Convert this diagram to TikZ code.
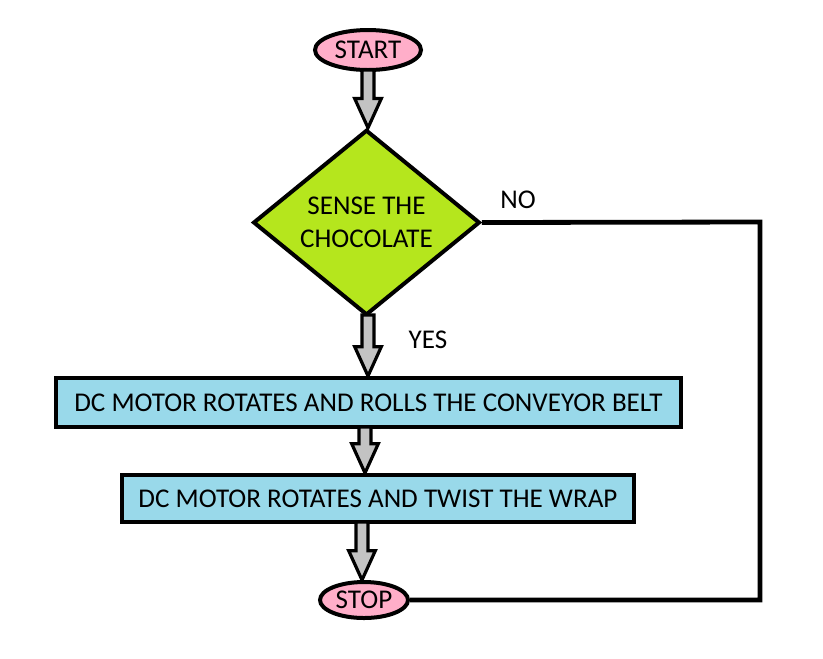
\documentclass[tikz,border=0pt]{standalone}
\usepackage{fontspec}
\setmainfont{Carlito}
\usetikzlibrary{shapes.geometric,calc}
\definecolor{pinkfill}{HTML}{FFAEC9}
\definecolor{limefill}{HTML}{B5E61D}
\definecolor{bluefill}{HTML}{99D9EA}
\definecolor{arrowgray}{HTML}{C3C3C3}
\tikzset{
  terminal/.style={ellipse, draw, line width=3pt, fill=pinkfill, inner sep=0pt, font=\fontsize{20.3}{22}\selectfont},
  decision/.style={diamond, draw, line width=3pt, fill=limefill, inner sep=0pt, align=center, font=\fontsize{20.3}{25}\selectfont},
  process/.style={rectangle, draw, line width=3pt, fill=bluefill, inner sep=0pt, font=\fontsize{20.3}{22}\selectfont},
  lbl/.style={inner sep=0pt, font=\fontsize{20.3}{22}\selectfont},
  fatarrow/.style={draw, line width=2.4pt, fill=arrowgray, line join=miter, miter limit=4},
  noline/.style={draw, line width=3.6pt}
}
\newcommand{\fatarrow}[2]{%
  \path[fatarrow] let \p1=(#1), \p2=(#2) in
    ({\x1-4.5pt},\y1) -- ({\x1-4.5pt},{\y2+22pt}) -- ({\x1-10pt},{\y2+22pt}) --
    (\x1,\y2) -- ({\x1+10pt},{\y2+22pt}) -- ({\x1+4.5pt},{\y2+22pt}) --
    ({\x1+4.5pt},\y1) -- cycle;}
\begin{document}
\begin{tikzpicture}[x=0.75pt,y=-0.75pt]
\useasboundingbox (0,0) rectangle (823,658);
\node[terminal, minimum width=79.5pt, minimum height=30pt] (start) at (368,50) {START};
\node[decision, minimum width=170pt, minimum height=139pt] (dec) at (366.5,222.5) {SENSE THE\\CHOCOLATE};
\node[process, minimum width=468.75pt, minimum height=36.75pt] (box1) at (368.5,402.5) {DC MOTOR ROTATES AND ROLLS THE CONVEYOR BELT};
\node[process, minimum width=384pt, minimum height=35.25pt] (box2) at (378,498.5) {DC MOTOR ROTATES AND TWIST THE WRAP};
\node[terminal, minimum width=66pt, minimum height=27pt] (stop) at (364,600) {STOP};
\node[lbl] (yes) at (428,340) {YES};
\node[lbl] (no) at (518,200) {NO};
\coordinate (a1) at (368,70);
\coordinate (a2) at (368,315);
\coordinate (a3) at (365,427);
\coordinate (a4) at (362,522);
\fatarrow{a1}{dec.north}
\fatarrow{a2}{box1.north}
\fatarrow{a3}{box2.north}
\fatarrow{a4}{stop.north}
\coordinate (nr) at (760,222);
\draw[noline] (dec.east) -- (nr) |- (stop.east);
\end{tikzpicture}
\end{document}
